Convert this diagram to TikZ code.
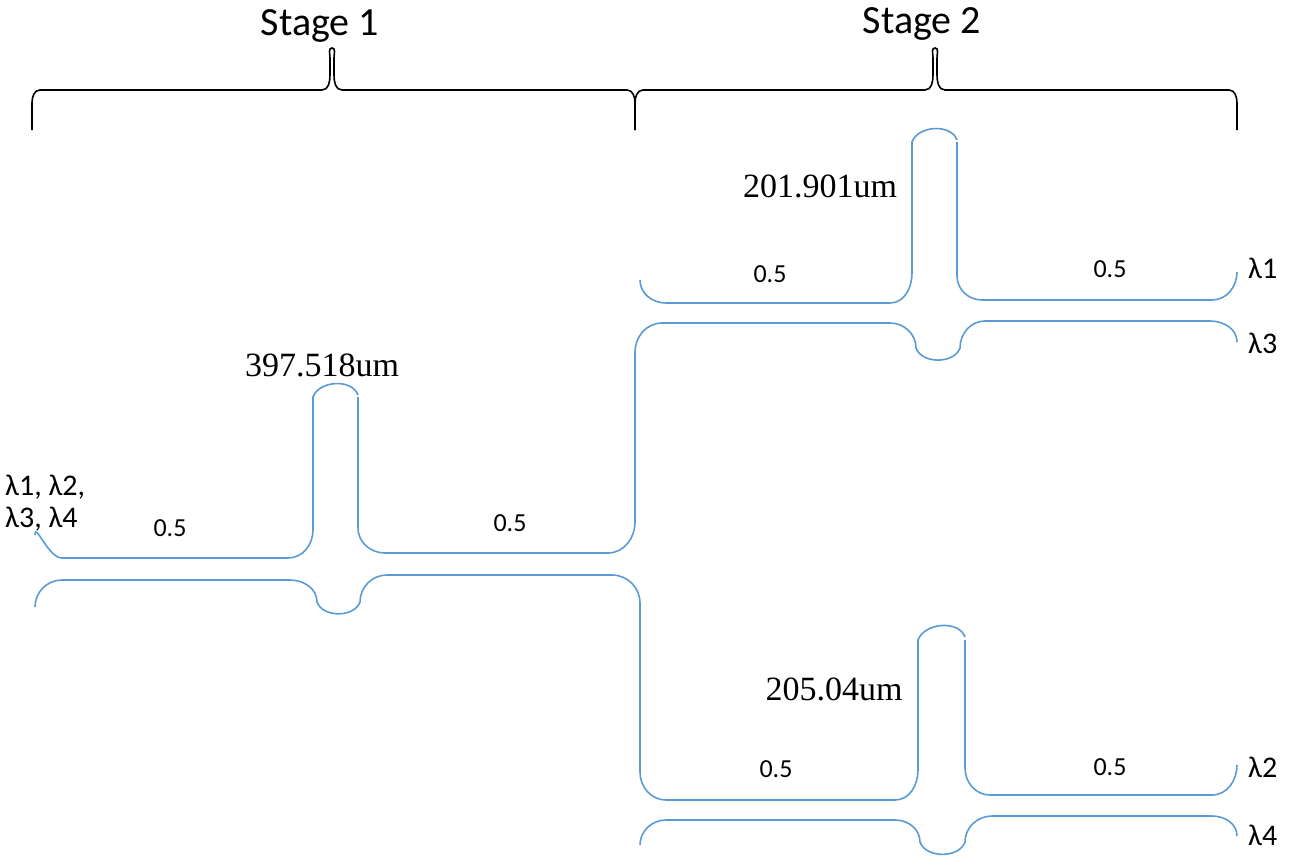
\documentclass[tikz,border=0pt]{standalone}
\usepackage{fontspec}
\setmainfont{Carlito}
\newfontfamily\umfont{Liberation Serif}
\usetikzlibrary{positioning}

\tikzset{
  guide/.style={color=wgblue, line width=1.6pt},
  bracket/.style={black, line width=1.6pt},
  stagelabel/.style={font=\fontsize{40}{44}\selectfont},
  ratio/.style={font=\fontsize{26}{30}\selectfont},
  port/.style={font=\fontsize{30}{36}\selectfont, align=left},
  length/.style={font=\umfont\fontsize{34}{38}\selectfont}
}
\definecolor{wgblue}{RGB}{91,155,213}

% curly bracket from x1 to x2 with tip at xm
\newcommand{\stagebrace}[3]{
  \draw[bracket] (#1,130) -- (#1,103) to[out=90,in=180] (#1+8,90) -- (#2-10,90)
    to[out=0,in=-90] (#2-2,75) -- (#2-2,58) to[out=90,in=180] (#2,48)
    to[out=0,in=90] (#2+2,58) -- (#2+2,75) to[out=-90,in=180] (#2+10,90)
    -- (#3-8,90) to[out=0,in=90] (#3,103) -- (#3,130);
}

\begin{document}
\begin{tikzpicture}[x=1pt,y=-1pt]
\useasboundingbox (0,0) rectangle (1292,857);

\stagebrace{32}{332}{635}
\stagebrace{635}{935}{1237}
\node[stagelabel] (s1) at (320,26) {Stage 1};
\node[stagelabel] (s2) at (922,24) {Stage 2};

% stage 1 coupler
\draw[guide] (35,535) to[out=90,in=180] (62,558) -- (288,558) to[out=0,in=-90] (313,530)
  -- (313,397) to[out=70,in=110] (358,395) (358,397) -- (358,528)
  to[out=-90,in=180] (385,553) -- (608,553) to[out=0,in=-90] (635,522) -- (635,352)
  to[out=90,in=180] (662,323) -- (890,323) to[out=0,in=90] (916,348)
  to[out=-70,in=-110] (960,348) to[out=90,in=180] (985,321) -- (1210,321)
  to[out=0,in=90] (1237,342);
\draw[guide] (35,607) to[out=90,in=180] (62,580) -- (290,580) to[out=0,in=90] (317,602)
  to[out=-70,in=-110] (360,602) to[out=90,in=180] (387,575) -- (612,575)
  to[out=0,in=90] (640,603) -- (640,772) to[out=-90,in=180] (666,800) -- (895,800)
  to[out=0,in=-90] (918,770) -- (918,640) to[out=70,in=110] (965,637)
  (965,640) -- (965,768) to[out=-90,in=180] (990,795) -- (1212,795)
  to[out=0,in=-90] (1237,765);

% stage 2 upper coupler
\draw[guide] (640,280) to[out=-90,in=180] (666,303) -- (890,303) to[out=0,in=-90] (912,273)
  -- (912,142) to[out=70,in=110] (957,140) (957,142) -- (957,276)
  to[out=-90,in=180] (982,300) -- (1212,300) to[out=0,in=-90] (1237,272);

% stage 2 lower coupler
\draw[guide] (640,845) to[out=90,in=180] (666,820) -- (895,820) to[out=0,in=90] (920,842)
  to[out=-70,in=-110] (965,842) to[out=90,in=180] (992,816) -- (1212,816)
  to[out=0,in=90] (1237,836);

\node[ratio] (r1) at (170,528) {0.5};
\node[ratio] (r2) at (510,523) {0.5};
\node[ratio] (r3) at (770,274) {0.5};
\node[ratio] (r4) at (1110,269) {0.5};
\node[ratio] (r5) at (776,769) {0.5};
\node[ratio] (r6) at (1110,767) {0.5};

\node[length] (l1) at (322,365) {397.518um};
\node[length] (l2) at (820,186) {201.901um};
\node[length] (l3) at (834,689) {205.04um};

\node[port, anchor=west, inner sep=0pt] (in) at (5,503) {λ1, λ2,\\[-4pt]λ3, λ4};
\node[port, anchor=west, inner sep=0pt] (o1) at (1248,268) {λ1};
\node[port, anchor=west, inner sep=0pt] (o3) at (1248,343) {λ3};
\node[port, anchor=west, inner sep=0pt] (o2) at (1248,767) {λ2};
\node[port, anchor=west, inner sep=0pt] (o4) at (1248,835) {λ4};
\end{tikzpicture}
\end{document}
